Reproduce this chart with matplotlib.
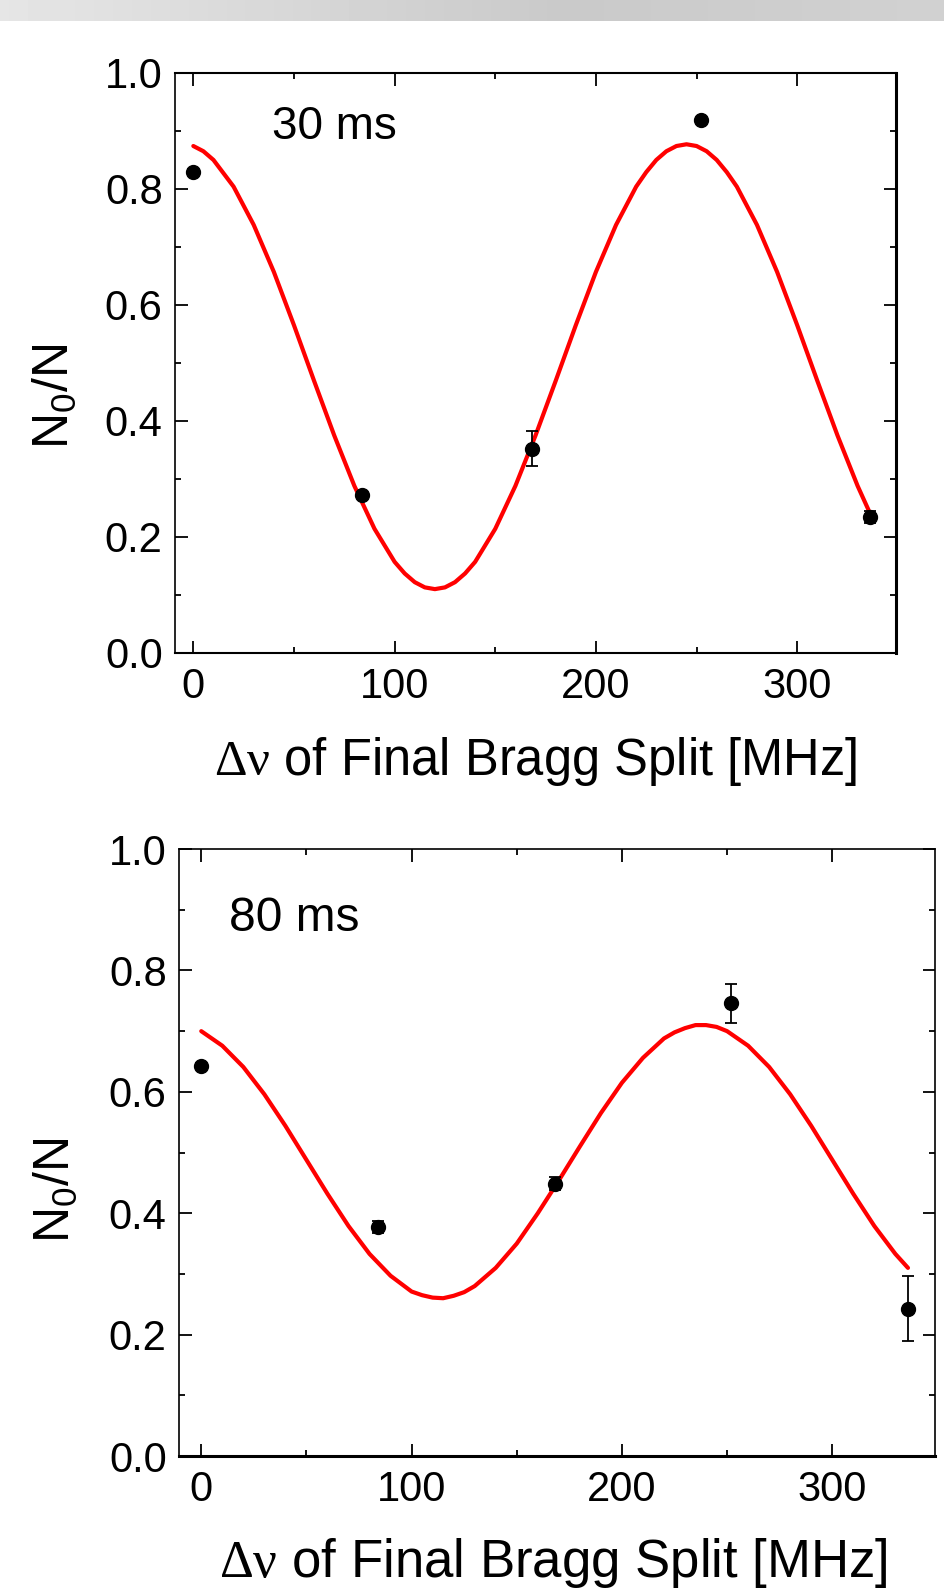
import numpy as np
import matplotlib
matplotlib.use("Agg")
import matplotlib.pyplot as plt
from matplotlib.ticker import MultipleLocator, FormatStrFormatter

plt.rcParams["font.family"] = ["Liberation Sans", "DejaVu Sans"]
plt.rcParams["mathtext.fontset"] = "custom"
plt.rcParams["mathtext.rm"] = "Liberation Serif"
plt.rcParams["mathtext.it"] = "Liberation Serif:italic"

# ---- data ----
shift_mhz = [0, 84, 168, 252, 336]

n0_30ms = [0.830, 0.272, 0.352, 0.918, 0.234]
err_30ms = [0.004, 0.005, 0.030, 0.004, 0.010]

n0_80ms = [0.643, 0.377, 0.449, 0.746, 0.243]
err_80ms = [0.005, 0.010, 0.010, 0.032, 0.053]

# fitted curves
fit_x_30 = [0, 5, 10, 20, 30, 40, 50, 60, 70, 80, 90, 100, 105, 110, 115, 120, 125,
            130, 135, 140, 150, 160, 170, 180, 190, 200, 210, 220, 225, 230, 235,
            240, 245, 250, 255, 260, 265, 270, 280, 290, 300, 310, 320, 330, 336]
fit_30ms = [0.874, 0.865, 0.850, 0.804, 0.738, 0.657, 0.565, 0.469, 0.375, 0.288,
            0.214, 0.157, 0.137, 0.122, 0.113, 0.110, 0.113, 0.122, 0.137, 0.157,
            0.214, 0.288, 0.375, 0.469, 0.565, 0.657, 0.738, 0.804, 0.829, 0.850,
            0.865, 0.874, 0.877, 0.874, 0.865, 0.850, 0.829, 0.804, 0.738, 0.657,
            0.565, 0.469, 0.375, 0.288, 0.242]

fit_x_80 = [0, 10, 20, 30, 40, 50, 60, 70, 80, 90, 100, 105, 110, 115, 120, 125,
            130, 140, 150, 160, 170, 180, 190, 200, 210, 220, 225, 230, 235, 240,
            245, 250, 260, 270, 280, 290, 300, 310, 320, 330, 336]
fit_80ms = [0.700, 0.676, 0.641, 0.596, 0.544, 0.488, 0.432, 0.379, 0.333, 0.297,
            0.271, 0.265, 0.261, 0.260, 0.264, 0.270, 0.280, 0.310, 0.350, 0.400,
            0.454, 0.510, 0.565, 0.615, 0.656, 0.688, 0.698, 0.705, 0.710, 0.710,
            0.707, 0.700, 0.676, 0.641, 0.596, 0.544, 0.488, 0.432, 0.379, 0.333,
            0.310]

labels = ["30 ms", "80 ms"]
xlabel = r"$\mathrm{\Delta\nu}$ of Final Bragg Split [MHz]"
ylabel = r"$\mathregular{N_0/N}$"


def style_axis(ax, spine_w, ylab_xy, xlab_size):
    ax.set_ylim(0.0, 1.0)
    ax.xaxis.set_major_locator(MultipleLocator(100))
    ax.xaxis.set_minor_locator(MultipleLocator(50))
    ax.yaxis.set_major_locator(MultipleLocator(0.2))
    ax.yaxis.set_minor_locator(MultipleLocator(0.1))
    ax.yaxis.set_major_formatter(FormatStrFormatter("%.1f"))
    ax.tick_params(which="both", direction="in", top=True, right=True,
                   labelsize=30, width=1.3)
    ax.tick_params(which="major", length=9)
    ax.tick_params(axis="x", which="major", pad=10)
    ax.tick_params(axis="y", which="major", pad=9)
    ax.tick_params(which="minor", length=4.5)
    for side, w in spine_w.items():
        ax.spines[side].set_linewidth(w)
    ax.set_xlabel(xlabel, fontsize=xlab_size, labelpad=20)
    ax.set_ylabel(ylabel, fontsize=36)
    ax.yaxis.set_label_coords(*ylab_xy)


fig = plt.figure(figsize=(9.44, 15.96), dpi=100)

# gray banner across the top
band = fig.add_axes([0, 1 - 21 / 1596, 1, 21 / 1596])
grad = np.concatenate([np.linspace(0.90, 0.79, 60), np.linspace(0.79, 0.82, 40)])
band.imshow(grad[None, :], cmap="gray", vmin=0, vmax=1, aspect="auto")
band.axis("off")

ax1 = fig.add_axes([0.1856, 0.5909, 0.7634, 0.3634])
ax1.plot(fit_x_30, fit_30ms, color="#ff0000", lw=3.0, zorder=2,
         solid_joinstyle="round", solid_capstyle="round")
ax1.errorbar(shift_mhz, n0_30ms, yerr=err_30ms, fmt="o", color="black",
             ms=10, capsize=4.5, elinewidth=1.3, capthick=1.3, zorder=3)
ax1.text(39, 0.907, labels[0], fontsize=33, va="center", ha="left")
ax1.set_xlim(-9, 349)
style_axis(ax1, {"left": 1.2, "top": 1.5, "right": 2.2, "bottom": 1.5},
           (-0.133, 0.443), 36.5)

ax2 = fig.add_axes([0.1898, 0.0877, 0.801, 0.3803])
ax2.plot(fit_x_80, fit_80ms, color="#ff0000", lw=3.0, zorder=2,
         solid_joinstyle="round", solid_capstyle="round")
ax2.errorbar(shift_mhz, n0_80ms, yerr=err_80ms, fmt="o", color="black",
             ms=10, capsize=4.5, elinewidth=1.3, capthick=1.3, zorder=3)
ax2.text(13, 0.886, labels[1], fontsize=34.5, va="center", ha="left")
ax2.set_xlim(-10.5, 349)
style_axis(ax2, {"left": 1.2, "top": 1.2, "right": 1.2, "bottom": 2.2},
           (-0.131, 0.437), 38)
ax2.xaxis.set_label_coords(0.495, -0.132)

fig.savefig("out.png", dpi=100)
